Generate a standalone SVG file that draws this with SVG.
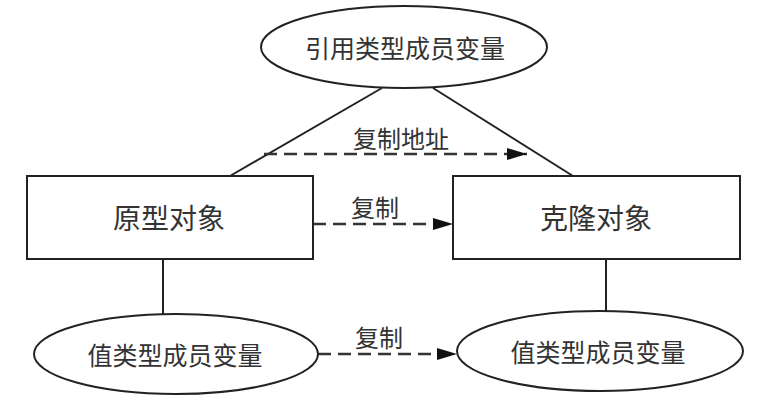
<svg xmlns="http://www.w3.org/2000/svg" width="776" height="407" viewBox="0 0 776 407">
<style>
.shape{fill:#fff;stroke:#222;stroke-width:2}
.line{stroke:#222;stroke-width:2;fill:none}
.dash{stroke:#333;stroke-width:2.5;fill:none;stroke-dasharray:13 7}
text{font-family:"Noto Sans CJK SC","Noto Sans",sans-serif;fill:#333;text-anchor:middle;dominant-baseline:central}
.big{font-size:28px}
.mid{font-size:25px}
.lbl{font-size:24px}
</style>
<defs>
<marker id="arr" markerWidth="20" markerHeight="12" refX="20" refY="6" orient="auto" markerUnits="userSpaceOnUse">
<path d="M0,0 L20,6 L0,12 Z" fill="#111"/>
</marker>
</defs>
<rect width="776" height="407" fill="#fff"/>
<g id="connectors">
<line class="line" x1="382" y1="88" x2="230" y2="176"/>
<line class="line" x1="433" y1="88" x2="573" y2="176"/>
<line class="line" x1="163" y1="259" x2="163" y2="314"/>
<line class="line" x1="606" y1="259" x2="606" y2="312"/>
<line class="dash" x1="264" y1="154" x2="527" y2="154" marker-end="url(#arr)"/>
<line class="dash" x1="313" y1="224" x2="453" y2="224" marker-end="url(#arr)"/>
<line class="dash" x1="318" y1="354" x2="457" y2="354" marker-end="url(#arr)"/>
<text class="lbl" x="401" y="137">复制地址</text>
<text class="lbl" x="375" y="206">复制</text>
<text class="lbl" x="379" y="336">复制</text>
</g>
<g id="ref-member">
<ellipse class="shape" cx="404" cy="47" rx="143" ry="41"/>
<text class="mid" x="405" y="47">引用类型成员变量</text>
</g>
<g id="prototype">
<rect class="shape" x="27" y="176" width="286" height="83"/>
<text class="big" x="169" y="217">原型对象</text>
</g>
<g id="clone">
<rect class="shape" x="453" y="176" width="287" height="83"/>
<text class="big" x="596" y="217">克隆对象</text>
</g>
<g id="value-member-left">
<ellipse class="shape" cx="176" cy="354" rx="142" ry="40"/>
<text class="mid" x="175" y="354">值类型成员变量</text>
</g>
<g id="value-member-right">
<ellipse class="shape" cx="600" cy="351" rx="143" ry="40"/>
<text class="mid" x="598" y="351">值类型成员变量</text>
</g>
</svg>
